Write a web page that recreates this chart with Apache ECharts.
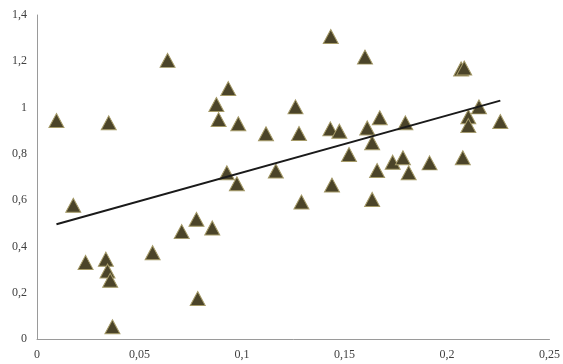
<!DOCTYPE html>
<html>
<head>
<meta charset="utf-8">
<script src="https://cdn.jsdelivr.net/npm/echarts@6/dist/echarts.min.js"></script>
<style>html,body{margin:0;padding:0;background:#fff}#c{width:563px;height:364px}</style>
</head>
<body>
<div id="c"></div>
<script>
var xValues = [0.0095,0.0177,0.0237,0.0336,0.0344,0.0357,0.0368,0.0350,0.0564,0.0637,
  0.0706,0.0778,0.0784,0.0855,0.0875,0.0886,0.0933,0.0926,0.0982,0.0975,
  0.1117,0.1165,0.1261,0.1278,0.1290,0.1433,0.1431,0.1475,0.1439,0.1522,
  0.1600,0.1611,0.1635,0.1635,0.1672,0.1659,0.1735,0.1785,0.1797,0.1813,
  0.1915,0.2069,0.2084,0.2077,0.2104,0.2104,0.2156,0.2260];
var yValues = [0.944,0.578,0.331,0.345,0.294,0.254,0.053,0.934,0.373,1.204,
  0.464,0.517,0.175,0.480,1.013,0.948,1.082,0.718,0.930,0.671,
  0.887,0.726,1.003,0.888,0.592,1.307,0.908,0.898,0.665,0.797,
  1.218,0.912,0.848,0.603,0.956,0.728,0.764,0.783,0.934,0.718,
  0.761,1.167,1.171,0.783,0.960,0.922,1.003,0.940];
var trendX = [0.0095, 0.2260];
var trendY = [0.496, 1.030];
var xTicks = [0, 0.05, 0.1, 0.15, 0.2, 0.25];
var yTicks = [0, 0.2, 0.4, 0.6, 0.8, 1, 1.2, 1.4];

var points = xValues.map(function(x, i){ return [x, yValues[i]]; });
var trend = trendX.map(function(x, i){ return [x, trendY[i]]; });
function fmt(v){ return String(Math.round(v*1000)/1000).replace('.', ','); }
var labelStyle = {fontFamily:'Liberation Serif', fontSize:12, color:'#404040', formatter: fmt};
var chart = echarts.init(document.getElementById('c'), null, {renderer:'canvas'});
chart.setOption({
  animation:false,
  grid:{left:37, right:10, top:15, bottom:25, containLabel:false},
  xAxis:{type:'value', min:xTicks[0], max:xTicks[xTicks.length-1], interval:0.05,
    axisLine:{show:true, onZero:false, lineStyle:{color:'#9a9a9a', width:1}},
    axisTick:{show:false}, splitLine:{show:false},
    axisLabel:Object.assign({margin:10}, labelStyle)},
  yAxis:{type:'value', min:yTicks[0], max:yTicks[yTicks.length-1], interval:0.2,
    axisLine:{show:true, onZero:false, lineStyle:{color:'#9a9a9a', width:1}},
    axisTick:{show:false}, splitLine:{show:false},
    axisLabel:Object.assign({margin:10}, labelStyle)},
  series:[
    {type:'scatter', data:points, symbol:'triangle', symbolSize:[15,14],
      itemStyle:{color:'#4b4429', borderColor:'#a59a68', borderWidth:1, opacity:1}, z:2},
    {type:'line', data:trend, symbol:'none', lineStyle:{color:'#1a1a1a', width:2}, z:3}
  ]
});
</script>
</body>
</html>
